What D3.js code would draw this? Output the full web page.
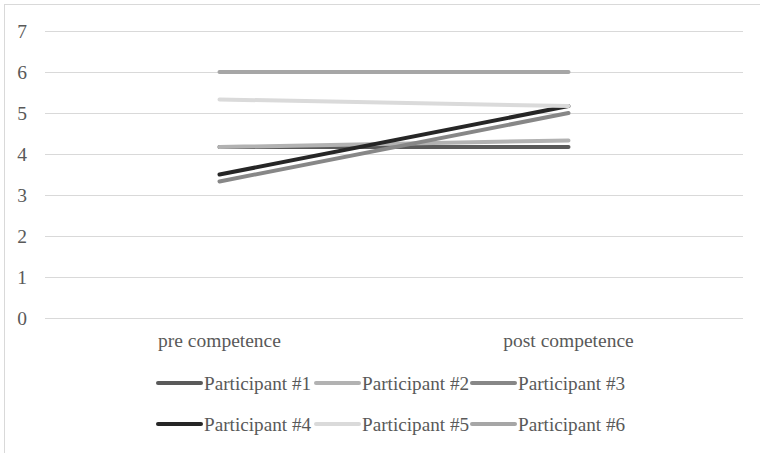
<!DOCTYPE html>
<html><head><meta charset="utf-8">
<script src="https://cdn.jsdelivr.net/npm/d3@7"></script>
<style>body{margin:0;background:#fff;}svg{display:block;}</style>
</head><body><svg id="c" width="760" height="453"></svg>
<script>
const categories = ["pre competence", "post competence"];
const seriesNames = ["Participant #1","Participant #2","Participant #3","Participant #4","Participant #5","Participant #6"];
const p1 = [4.17, 4.17];
const p2 = [4.17, 4.33];
const p3 = [3.33, 5.0];
const p4 = [3.5, 5.17];
const p5 = [5.33, 5.17];
const p6 = [6.0, 6.0];
const yTicks = [0,1,2,3,4,5,6,7];
const colors = ["#5a5a5a","#b2b2b2","#878787","#262626","#dadada","#a6a6a6"];
const series = [p1,p2,p3,p4,p5,p6];
const FONT = "Liberation Serif";

const svg = d3.select("#c");
svg.append("rect").attr("x",4.5).attr("y",4.5).attr("width",770).attr("height",460)
  .attr("fill","none").attr("stroke","#d9d9d9");

const x = d3.scaleBand().domain(categories).range([45,743]);
const y = d3.scaleLinear().domain([0,7]).range([318,31]);

const g = svg.append("g");
g.selectAll("line.grid").data(yTicks).join("line")
  .attr("x1",45).attr("x2",743).attr("y1",d=>y(d)+0.5).attr("y2",d=>y(d)+0.5)
  .attr("stroke","#d9d9d9").attr("stroke-width",1);
g.selectAll("text.yt").data(yTicks).join("text")
  .attr("x",27).attr("y",d=>y(d)).attr("dy","0.35em").attr("text-anchor","end")
  .attr("font-family",FONT).attr("fill","#595959")
  .attr("font-size",19.5).text(d=>d);
g.selectAll("text.xt").data(categories).join("text")
  .attr("x",d=>x(d)+x.bandwidth()/2).attr("y",340).attr("dy","0.35em")
  .attr("font-family",FONT).attr("fill","#595959")
  .attr("text-anchor","middle").attr("font-size",19.5).text(d=>d);

const line = d3.line().x((d,i)=>x(categories[i])+x.bandwidth()/2).y(d=>y(d));
series.forEach((s,i)=>{
  g.append("path").attr("d",line(s)).attr("fill","none")
   .attr("stroke",colors[i]).attr("stroke-width",4).attr("stroke-linecap","round");
});

// legend
const legX = [158, 316, 472];
const legY = [383, 424];
seriesNames.forEach((n,i)=>{
  const lx = legX[i%3], ly = legY[Math.floor(i/3)];
  svg.append("line").attr("x1",lx).attr("x2",lx+43).attr("y1",ly).attr("y2",ly)
    .attr("stroke",colors[i]).attr("stroke-width",4).attr("stroke-linecap","round");
  svg.append("text").attr("x",lx+46).attr("y",ly).attr("dy","0.35em")
    .attr("font-family",FONT).attr("fill","#595959")
    .attr("font-size",19.2).text(n);
});
</script></body></html>
